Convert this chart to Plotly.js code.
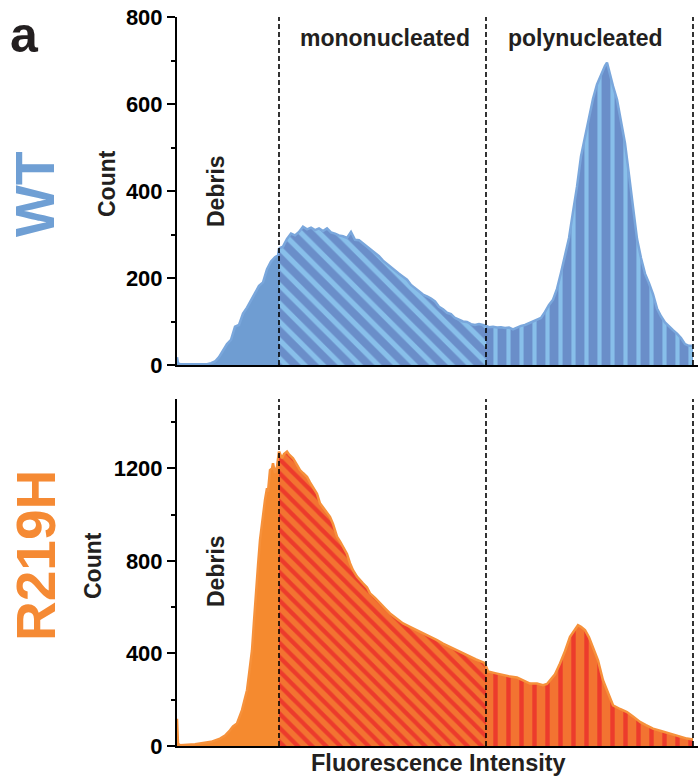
<!DOCTYPE html>
<html>
<head>
<meta charset="utf-8">
<script src="https://cdn.plot.ly/plotly-3.0.1.min.js"></script>
<style>html,body{margin:0;padding:0;background:#fff;}#chart{width:698px;height:783px;}</style>
</head>
<body>
<div id="chart"></div>
<script>
// ---- data (fluorescence channel, cell count) ----
const wtX = [0,1,3,6,10,14,18,22,26,30,34,38,42,46,50,54,58,62,66,70,74,78,82,86,90,94,98,101,102,
106,110,114,118,122,126,130,134,138,142,146,150,154,158,162,166,170,174,178,182,186,190,194,198,202,206,210,214,218,222,226,230,234,238,242,246,250,254,258,262,266,270,274,278,282,286,290,294,298,302,306,309,
312,316,320,324,328,332,336,340,344,348,352,356,360,364,368,372,376,380,384,388,392,396,400,404,408,412,416,420,424,428,430,432,436,440,444,448,452,456,460,464,468,472,476,480,484,488,492,496,500,504,508,512,516];
const wtCount = [18,4,2,2,2,1,1,2,2,2,4,8,18,34,48,58,88,92,118,132,150,165,182,190,220,238,248,252,268,
272,290,302,298,306,318,312,316,310,314,308,314,305,302,298,296,292,306,288,287,280,272,265,257,250,240,232,226,218,210,203,196,184,176,170,162,158,153,146,134,128,120,117,108,104,100,99,94,92,94,92,90,
87,88,86,87,85,86,82,86,90,92,96,100,104,108,122,138,150,175,212,255,292,352,410,480,525,570,612,645,668,688,695,675,641,610,562,510,437,364,290,246,210,188,163,130,112,98,88,80,72,62,48,44,44];

const mutX = [0,1,3,10,18,26,34,43,48,53,56,60,62,65,67,70,72,75,77,79,81,83,86,88,90,91,93,95,96,98,100,101,102,
105,107,110,112,116,120,123,126,130,133,136,140,143,146,150,153,156,160,163,166,170,173,176,180,183,186,190,193,198,203,208,213,220,226,233,240,246,253,260,266,273,280,286,293,299,305,307,309,
311,318,326,333,340,346,353,360,366,370,373,378,383,388,393,397,401,404,408,412,416,421,426,431,436,443,450,456,463,469,476,484,493,502,510,516];
const mutCount = [118,10,3,5,8,13,18,32,45,68,85,97,120,155,190,241,310,414,540,674,780,890,1000,1064,1114,1100,1193,1200,1222,1180,1208,1250,1273,
1244,1262,1273,1260,1244,1215,1193,1180,1164,1140,1121,1090,1049,1030,1006,991,960,905,885,861,830,790,760,732,715,703,685,660,640,616,595,573,550,530,515,501,487,472,458,443,428,414,400,385,374,364,360,345,
322,315,306,300,296,285,270,270,263,268,284,310,357,410,472,500,522,515,501,470,429,370,284,230,176,160,147,128,104,90,75,65,54,45,32,28];

// gate boundaries (channel) and region names
const gates = [102, 309, 516];
const regionNames = ['Debris', 'mononucleated', 'polynucleated'];
const sampleNames = ['WT', 'R219H'];
const yTicksWT = [0, 200, 400, 600, 800];
const yTicksMut = [0, 400, 800, 1200];

// ---- styles ----
const styles = {
  WT: {
    label: '#6f9fd4', line: '#7aa7dc',
    fills: [
      {solid: '#6f9dd2'},
      {shape: '\\', bg: '#6a8ec9', fg: '#88bfea', size: 13, solidity: 0.4},
      {shape: '|', bg: '#6a8ec9', fg: '#88bfea', size: 13, solidity: 0.32}
    ]
  },
  R219H: {
    label: '#f58a34', line: '#f6913b',
    fills: [
      {solid: '#f58a2f'},
      {shape: '\\', bg: '#f37331', fg: '#ec3b2c', size: 10, solidity: 0.42},
      {shape: '|', bg: '#f37331', fg: '#ec3b2c', size: 13, solidity: 0.34}
    ]
  }
};

function segment(xs, ys, lo, hi) {
  const sx = [], sy = [];
  for (let i = 0; i < xs.length; i++) {
    if (xs[i] >= lo && xs[i] <= hi) { sx.push(xs[i]); sy.push(ys[i]); }
  }
  return {x: sx, y: sy};
}

const traces = [];
function addSample(name, xs, ys, xa, ya) {
  const st = styles[name];
  const bounds = [xs[0]].concat(gates);
  for (let r = 0; r < 3; r++) {
    const seg = segment(xs, ys, bounds[r], bounds[r + 1]);
    const f = st.fills[r];
    const t = {
      type: 'scatter', mode: 'lines', x: seg.x, y: seg.y, xaxis: xa, yaxis: ya,
      name: name + ' ' + regionNames[r], fill: 'tozeroy',
      line: {color: st.line, width: 2.5, shape: 'linear'},
      hoverinfo: 'skip'
    };
    if (f.solid) {
      t.fillcolor = f.solid;
    } else {
      t.fillcolor = f.bg;
      t.fillpattern = {shape: f.shape, bgcolor: f.bg, fgcolor: f.fg, fgopacity: 1, size: f.size, solidity: f.solidity, fillmode: 'replace'};
    }
    traces.push(t);
  }
}
addSample('WT', wtX, wtCount, 'x', 'y');
addSample('R219H', mutX, mutCount, 'x2', 'y2');

// ---- layout ----
const L = 177, T = 17, B = 37, W = 698, H = 783;
const plotW = W - L, plotH = H - T - B;
const px = v => (v - L) / plotW;
const py = v => (H - B - v) / plotH;

const fontFam = 'Liberation Sans, Arial, Helvetica, sans-serif';
const dark = '#231f20';

function xaxisDef(anchor) {
  return {anchor: anchor, domain: [0, 1], range: [0, W - L], showticklabels: false, ticks: '',
    showgrid: false, zeroline: false, showline: true, linecolor: '#000', linewidth: 2, fixedrange: true};
}
function yaxisDef(domain, range, ticks, minorStep) {
  return {domain: domain, range: range, tickvals: ticks, ticktext: ticks.map(String),
    ticks: 'outside', ticklen: 8, tickwidth: 2, tickcolor: '#000',
    showline: true, linecolor: '#000', linewidth: 2, showgrid: false, zeroline: false,
    tickfont: {family: fontFam, size: 22, color: '#000', weight: 'bold'},
    minor: {dtick: minorStep, ticks: 'outside', ticklen: 4, tickwidth: 2, tickcolor: '#000', showgrid: false},
    fixedrange: true};
}

const shapes = [];
gates.forEach(g => {
  [['x', 'y domain'], ['x2', 'y2 domain']].forEach(([xr, yr]) => {
    shapes.push({type: 'line', xref: xr, yref: yr, x0: g, x1: g, y0: 0, y1: 1,
      line: {color: '#000', width: 1.6, dash: '5px,3px'}});
  });
});

function ann(text, x, y, size, color, angle, weight) {
  return {text: text, xref: 'paper', yref: 'paper', x: px(x), y: py(y), xanchor: 'center', yanchor: 'middle',
    showarrow: false, textangle: angle || 0,
    font: {family: fontFam, size: size, color: color, weight: weight || 'bold'}};
}

const annotations = [
  ann('a', 24, 35, 50, dark),
  ann(sampleNames[0], 35, 194, 55, styles.WT.label, -90),
  ann(sampleNames[1], 36, 556, 55, styles.R219H.label, -90),
  ann('Count', 107, 184, 23, dark, -90),
  ann('Count', 93, 566, 23, dark, -90),
  ann(regionNames[0], 216, 191, 23, dark, -90),
  ann(regionNames[0], 216, 571, 23, dark, -90),
  ann(regionNames[1], 385, 38, 23, dark, 0),
  ann(regionNames[2], 585, 38, 23, dark, 0),
  ann('Fluorescence Intensity', 438, 763, 23.5, dark, 0)
];

const layout = {
  width: W, height: H,
  margin: {l: L, r: 0, t: T, b: B, pad: 0},
  paper_bgcolor: '#fff', plot_bgcolor: 'rgba(0,0,0,0)',
  showlegend: false,
  font: {family: fontFam, color: '#000'},
  xaxis: xaxisDef('y'),
  yaxis: yaxisDef([py(365), 1], [0, 800], yTicksWT, 100),
  xaxis2: xaxisDef('y2'),
  yaxis2: yaxisDef([0, py(399)], [0, 1500], yTicksMut, 200),
  shapes: shapes,
  annotations: annotations
};

Plotly.newPlot('chart', traces, layout, {displayModeBar: false, staticPlot: true});
</script>
</body>
</html>
